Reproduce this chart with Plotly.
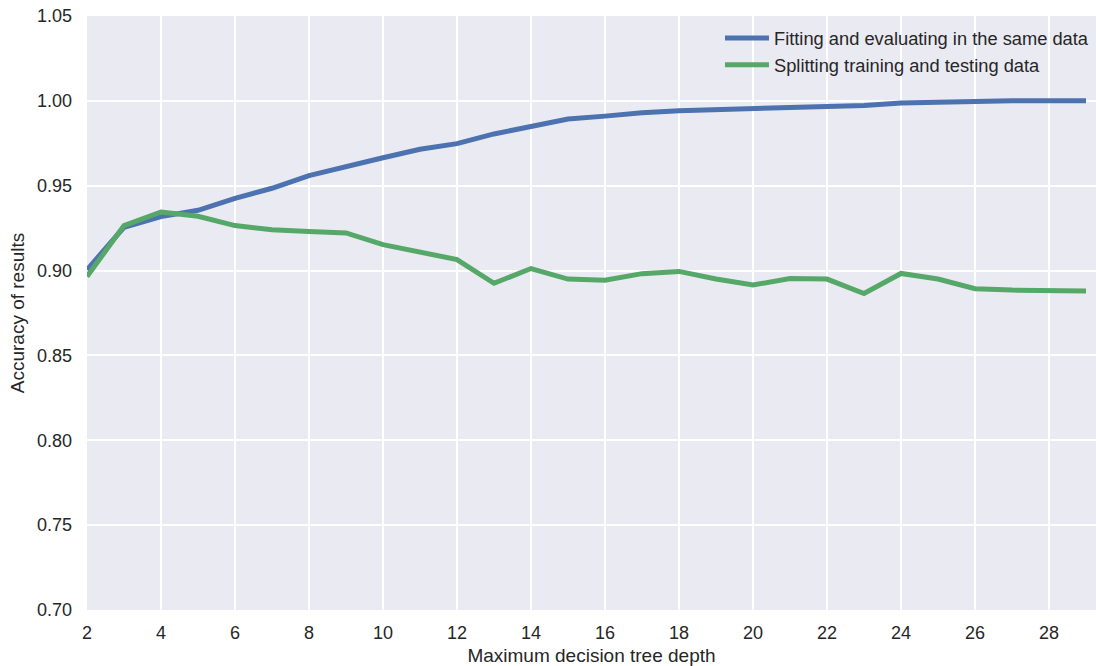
import plotly.graph_objects as go

depth = list(range(2, 30))
train_acc = [0.9005, 0.9255, 0.9318, 0.9355, 0.9425, 0.9485, 0.9560, 0.9615, 0.9665,
             0.9715, 0.9748, 0.9805, 0.9852, 0.9893, 0.9910, 0.9930, 0.9942, 0.9950,
             0.9958, 0.9963, 0.9967, 0.9972, 0.9987, 0.9992, 0.9998, 1.0000, 1.0000, 1.0000]
test_acc = [0.8965, 0.9265, 0.9345, 0.9320, 0.9265, 0.9240, 0.9230, 0.9222, 0.9153,
            0.9110, 0.9065, 0.8925, 0.9012, 0.8950, 0.8943, 0.8982, 0.8995, 0.8950,
            0.8915, 0.8953, 0.8950, 0.8865, 0.8983, 0.8950, 0.8893, 0.8885, 0.8885, 0.8880]

series_names = ["Fitting and evaluating in the same data", "Splitting training and testing data"]
colors = ["#4C72B0", "#55A868"]
x_ticks = list(range(2, 30, 2))
y_ticks = [0.70, 0.75, 0.80, 0.85, 0.90, 0.95, 1.00, 1.05]

fig = go.Figure()
for name, vals, c in zip(series_names, [train_acc, test_acc], colors):
    fig.add_trace(go.Scatter(x=depth, y=vals, mode="lines", name=name,
                             line=dict(color=c, width=5)))

font_family = "Liberation Sans, Arial, sans-serif"
fig.update_layout(
    width=1096, height=666,
    margin=dict(l=87, r=0, t=16, b=56, autoexpand=False),
    paper_bgcolor="white", plot_bgcolor="#EAEAF2",
    font=dict(family=font_family, size=17.5, color="#262626"),
    showlegend=True,
    legend=dict(x=0.998, y=0.994, xanchor="right", yanchor="top",
                bgcolor="rgba(0,0,0,0)", font=dict(size=18.3),
                itemwidth=44, tracegroupgap=0),
    xaxis=dict(range=[2, 29.27], tickvals=x_ticks, ticktext=[str(v) for v in x_ticks],
               showgrid=True, gridcolor="white", gridwidth=1.6, zeroline=False,
               showline=False, ticks="", ticklabelstandoff=10,
               tickfont=dict(size=18),
               title=dict(text="Maximum decision tree depth", standoff=7,
                          font=dict(size=19))),
    yaxis=dict(range=[0.70, 1.05], tickvals=y_ticks, ticktext=[f"{v:.2f}" for v in y_ticks],
               showgrid=True, gridcolor="white", gridwidth=1.6, zeroline=False,
               showline=False, ticks="", ticklabelstandoff=14,
               tickfont=dict(size=18),
               title=dict(text="Accuracy of results", standoff=7,
                          font=dict(size=19))),
)

fig.write_html("out.html")
